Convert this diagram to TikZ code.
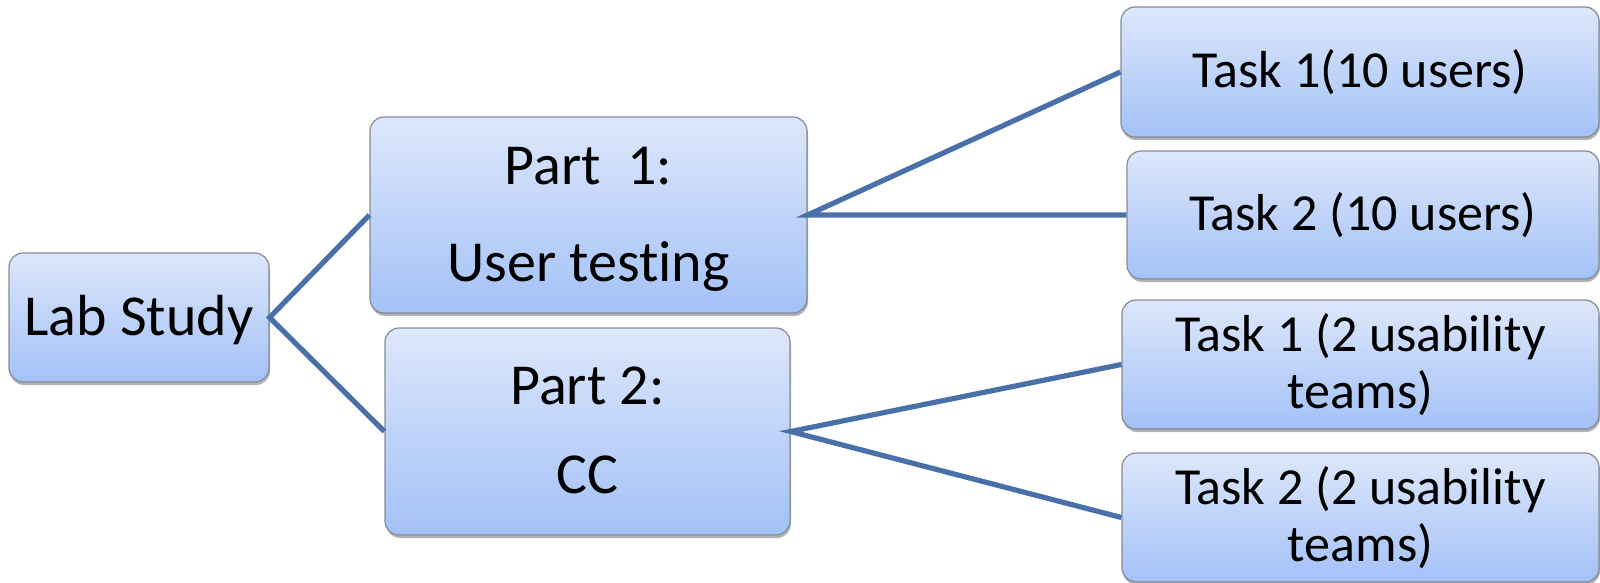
\documentclass[tikz,border=0pt]{standalone}
\usepackage{fontspec}
\setmainfont[Ligatures=NoCommon]{Carlito}
\usetikzlibrary{shadows}
\definecolor{boxtop}{HTML}{DDE7FB}
\definecolor{boxbot}{HTML}{A3C1F7}
\definecolor{boxedge}{HTML}{858B94}
\definecolor{linkcol}{HTML}{4A70AA}
\newcommand\mybs{\rule[-12pt]{0pt}{59pt}}
\newcommand\myts{\rule[-12pt]{0pt}{55.5pt}}
\tikzset{
  box/.style={draw=boxedge, line width=1.2pt, rounded corners=14pt,
    top color=boxtop, bottom color=boxbot, inner sep=0pt, align=center,
    drop shadow={shadow xshift=1pt, shadow yshift=-3pt, opacity=0.3, fill=black}},
  bigtxt/.style={font=\fontsize{58}{97}\selectfont},
  tasktxt/.style={font=\fontsize{52}{57}\selectfont},
  link/.style={draw=linkcol, line width=5.2pt}
}
\begin{document}
\begin{tikzpicture}[x=1pt,y=-1pt]
\useasboundingbox (0,0) rectangle (1600,583);
\node[box, bigtxt, minimum width=260pt, minimum height=129pt] (lab) at (139,317.5) {\mybs Lab Study};
\node[box, bigtxt, minimum width=437pt, minimum height=196pt] (p1) at (588.5,215) {\mybs Part~~1:\\\mybs User testing};
\node[box, font=\fontsize{58}{89}\selectfont, minimum width=405pt, minimum height=207pt] (p2) at (587.5,431.5) {\mybs Part 2:\\\mybs CC};
\node[box, tasktxt, minimum width=478pt, minimum height=130pt] (t1) at (1360,72) {\myts Task 1(10 users)};
\node[box, tasktxt, minimum width=472pt, minimum height=128pt] (t2) at (1363,215) {\myts Task 2 (10 users)};
\node[box, tasktxt, minimum width=477pt, minimum height=129pt] (t3) at (1360.5,364.5) {\myts Task 1 (2 usability\\\myts teams)};
\node[box, tasktxt, minimum width=477pt, minimum height=129pt] (t4) at (1360.5,517.5) {\myts Task 2 (2 usability\\\myts teams)};
\draw[link] (p1.west) -- (lab.east) -- (p2.west);
\draw[link] (t1.west) -- (p1.east) -- (t2.west);
\draw[link] (t3.west) -- (p2.east) -- (t4.west);
\end{tikzpicture}
\end{document}
